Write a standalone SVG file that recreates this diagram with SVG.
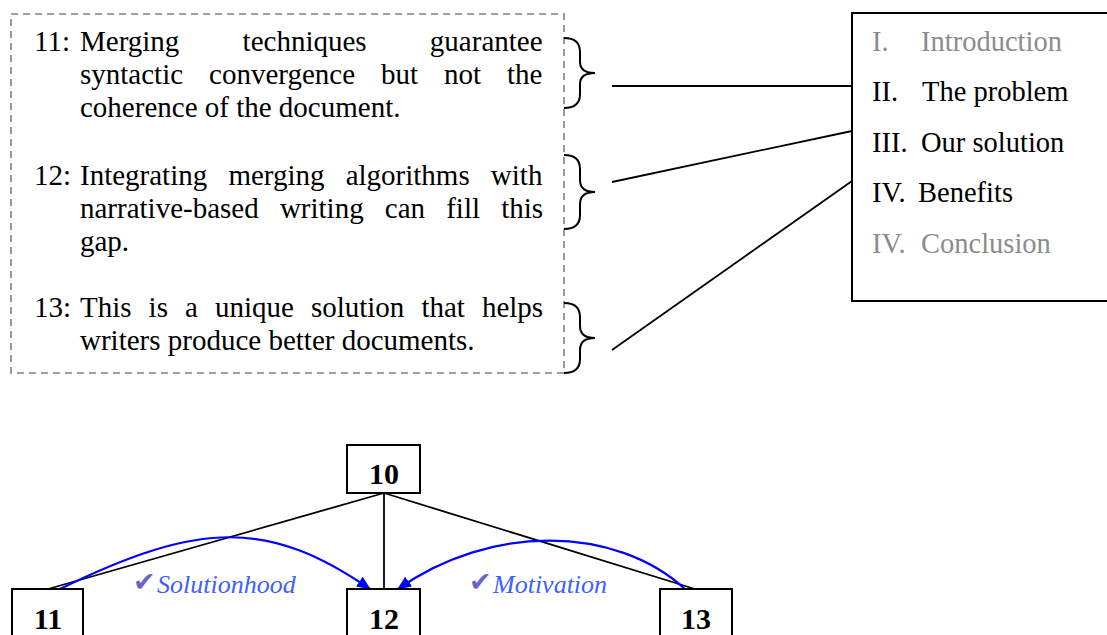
<svg xmlns="http://www.w3.org/2000/svg" width="1107" height="635" viewBox="0 0 1107 635">
<style>
  .t { font-family: "Liberation Serif", "Times New Roman", serif; font-size: 29px; fill: #000; }
  .r { font-family: "Liberation Serif", "Times New Roman", serif; font-size: 28.5px; fill: #000; }
  .g { fill: #8c8c8c; }
  .n { font-family: "Liberation Serif", "Times New Roman", serif; font-size: 30px; font-weight: bold; fill: #000; text-anchor: middle; }
  .lbl { font-family: "Liberation Serif", "Times New Roman", serif; font-size: 26px; font-style: italic; fill: #4060ff; }
  .chk { font-family: "DejaVu Sans", sans-serif; font-size: 27px; font-style: normal; font-weight: bold; fill: #6666cc; }
  .box { fill: #fff; stroke: #000; stroke-width: 2; }
  .ln { fill: none; stroke: #000; stroke-width: 1.8; }
  .br { fill: none; stroke: #000; stroke-width: 2; }
  .blue { fill: none; stroke: #0000ff; stroke-width: 2.2; marker-end: url(#ah); }
</style>
<defs>
  <marker id="ah" viewBox="0 0 14 12" refX="13" refY="6" markerWidth="14" markerHeight="12" markerUnits="userSpaceOnUse" orient="auto">
    <path d="M0,0 L14,6 L0,12 Z" fill="#0000ff"/>
  </marker>
</defs>

<g id="sentences">
  <rect x="11" y="14" width="553" height="359" fill="none" stroke="#808080" stroke-width="1.6" stroke-dasharray="7,5"/>
  <text class="t" x="34" y="51">11:</text>
  <text class="t" x="80" y="51" word-spacing="56">Merging techniques guarantee</text>
  <text class="t" x="80" y="84" word-spacing="18.7">syntactic convergence but not the</text>
  <text class="t" x="80" y="117">coherence of the document.</text>
  <text class="t" x="34" y="185">12:</text>
  <text class="t" x="80" y="185" word-spacing="13.9">Integrating merging algorithms with</text>
  <text class="t" x="80" y="218" word-spacing="13.9">narrative-based writing can fill this</text>
  <text class="t" x="80" y="251">gap.</text>
  <text class="t" x="34" y="317">13:</text>
  <text class="t" x="80" y="317" word-spacing="9.8">This is a unique solution that helps</text>
  <text class="t" x="80" y="350">writers produce better documents.</text>
</g>

<g id="outline">
  <rect x="852" y="13" width="270" height="288" fill="#fff" stroke="#000" stroke-width="2"/>
  <text class="r g" y="51"><tspan x="872">I.</tspan><tspan x="921">Introduction</tspan></text>
  <text class="r" y="101"><tspan x="872">II.</tspan><tspan x="922">The problem</tspan></text>
  <text class="r" y="152"><tspan x="872">III.</tspan><tspan x="921">Our solution</tspan></text>
  <text class="r" y="202"><tspan x="872">IV.</tspan><tspan x="918">Benefits</tspan></text>
  <text class="r g" y="253"><tspan x="872">IV.</tspan><tspan x="921">Conclusion</tspan></text>
</g>

<g id="connectors">
  <path class="br" d="M564,38 Q580,38 580,52 L580,62 Q580,73 595,73 Q580,73 580,84 L580,94 Q580,108 564,108"/>
  <path class="br" d="M564,155 Q580,155 580,169 L580,180 Q580,192 595,192 Q580,192 580,204 L580,215 Q580,229 564,229"/>
  <path class="br" d="M564,303 Q580,303 580,317 L580,326 Q580,338 595,338 Q580,338 580,350 L580,359 Q580,373 564,373"/>
  <line class="ln" x1="612" y1="86" x2="852" y2="86"/>
  <line class="ln" x1="612" y1="182" x2="852" y2="131"/>
  <line class="ln" x1="612" y1="350" x2="852" y2="181"/>

  <line class="ln" x1="384" y1="493" x2="48" y2="589"/>
  <line class="ln" x1="384" y1="493" x2="384" y2="589"/>
  <line class="ln" x1="384" y1="493" x2="695" y2="589"/>
  <path class="blue" d="M60,589 C200,520 270,520 370,589"/>
  <path class="blue" d="M685,589 C615,525 490,524 398,589"/>
  <text class="lbl" x="133" y="591"><tspan class="chk">✔</tspan><tspan x="157" y="593">Solutionhood</tspan></text>
  <text class="lbl" x="469" y="591"><tspan class="chk">✔</tspan><tspan x="493" y="593">Motivation</tspan></text>
</g>

<g id="node-10">
  <rect class="box" x="347" y="445" width="73" height="48"/>
  <text class="n" x="384" y="484">10</text>
</g>
<g id="node-11">
  <rect class="box" x="12" y="589" width="71" height="60"/>
  <text class="n" x="48" y="629">11</text>
</g>
<g id="node-12">
  <rect class="box" x="347" y="589" width="73" height="60"/>
  <text class="n" x="384" y="629">12</text>
</g>
<g id="node-13">
  <rect class="box" x="660" y="589" width="72" height="60"/>
  <text class="n" x="696" y="629">13</text>
</g>
</svg>
